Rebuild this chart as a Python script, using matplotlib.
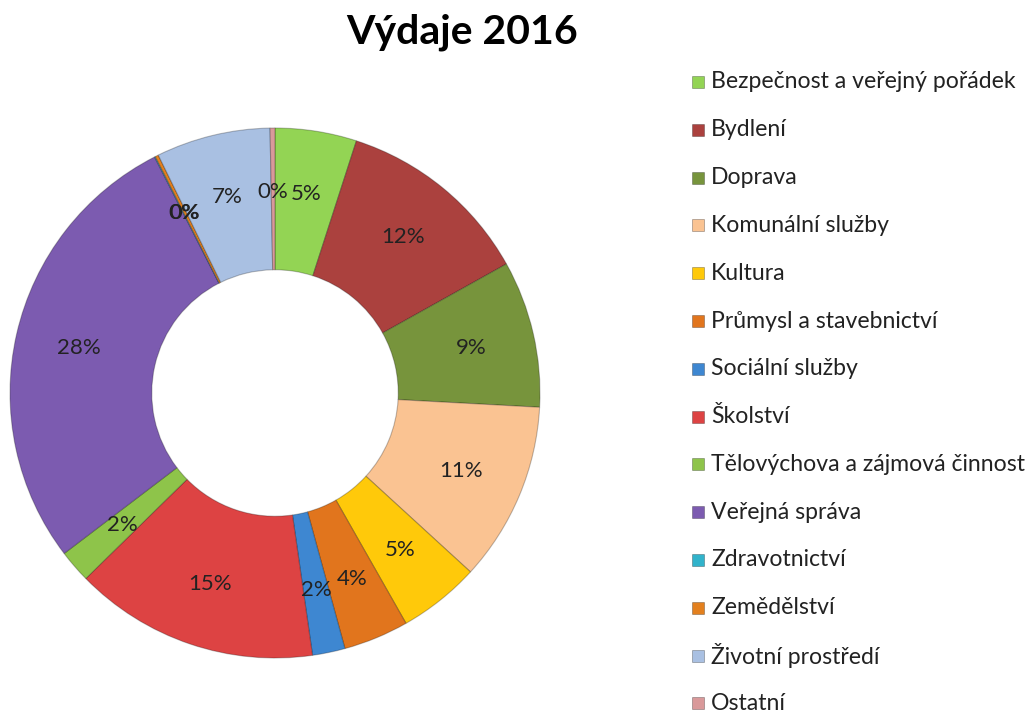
import matplotlib.pyplot as plt
from matplotlib.patches import Rectangle

plt.rcParams['font.family'] = ['Lato', 'DejaVu Sans']

categories = ["Bezpečnost a veřejný pořádek", "Bydlení", "Doprava", "Komunální služby",
              "Kultura", "Průmysl a stavebnictví", "Sociální služby", "Školství",
              "Tělovýchova a zájmová činnost", "Veřejná správa", "Zdravotnictví",
              "Zemědělství", "Životní prostředí", "Ostatní"]
values = [5, 12, 9, 11, 5, 4, 2, 15, 2, 28, 0.05, 0.2, 7, 0.3]
colors = ["#93d454", "#ab413e", "#77943c", "#fac392", "#ffc90a", "#e1751d",
          "#3e87d1", "#dd4343", "#8ec44a", "#7c5bb0", "#31b3cb", "#e3801e",
          "#a9c0e2", "#d9999a"]

fig = plt.figure(figsize=(10.29, 7.13), dpi=100)
W, H = 1029, 713
cx, cy, r = 275, 393, 265
ax = fig.add_axes([(cx - r) / W, (H - cy - r) / H, 2 * r / W, 2 * r / H])

wedges, texts, autotexts = ax.pie(
    values, colors=colors, startangle=90, counterclock=False, radius=1,
    autopct='%.0f%%', pctdistance=0.76,
    wedgeprops=dict(width=0.535, edgecolor=(0, 0, 0, 0.25), linewidth=0.8),
    textprops=dict(fontsize=16, color='#222222'))
ax.set_xlim(-1, 1)
ax.set_ylim(-1, 1)
ax.set_aspect('equal')
ax.axis('off')

fig.text(462 / W, 1 - 32 / H, "Výdaje 2016", ha='center', va='center',
         fontsize=29.5, fontweight='bold')

# legend drawn by hand to match the row spacing
y0, dy = 82, 47.8
for i, (lab, col) in enumerate(zip(categories, colors)):
    y = y0 + i * dy
    fig.patches.append(Rectangle((692 / W, 1 - (y + 6) / H), 12 / W, 12 / H,
                                 transform=fig.transFigure, facecolor=col,
                                 edgecolor=(0, 0, 0, 0.3), linewidth=0.6))
    fig.text(711 / W, 1 - y / H, lab, ha='left', va='center', fontsize=16.6,
             color='#222222')

fig.savefig("out.png", dpi=100)
